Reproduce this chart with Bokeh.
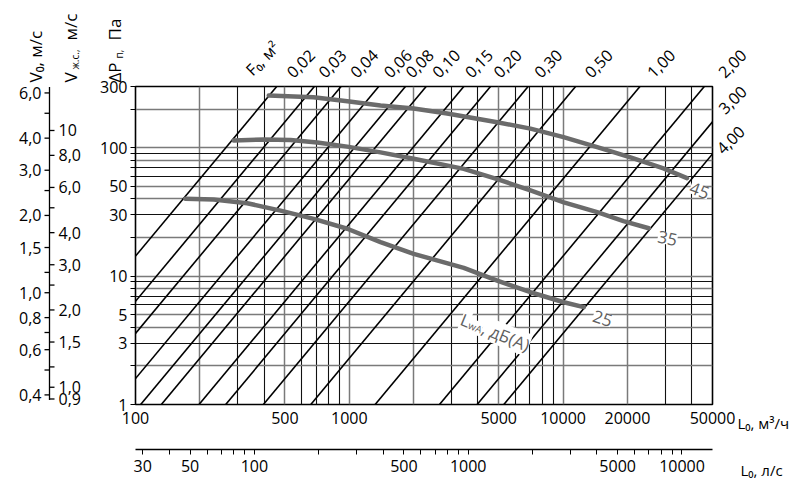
import math
from bokeh.plotting import figure
from bokeh.models import Range1d, LogAxis, LogScale, FixedTicker, Label, Grid
from bokeh.core.properties import value
from bokeh.embed import file_html
from bokeh.resources import INLINE

# ---------------- data ----------------
flow_labels_m3h = [100, 500, 1000, 5000, 10000, 20000, 50000]
flow_grid_m3h = [200, 300, 400, 500, 600, 700, 800, 900, 1000, 2000, 3000, 4000,
                 5000, 6000, 7000, 8000, 9000, 10000, 20000, 30000, 40000]
flow_labels_ls = [30, 50, 100, 500, 1000, 5000, 10000]
flow_ticks_ls = [30, 40, 50, 60, 70, 80, 90, 100, 200, 300, 400, 500, 600, 700, 800, 900,
                 1000, 2000, 3000, 4000, 5000, 6000, 7000, 8000, 9000, 10000]
dp_labels = [1, 3, 5, 10, 30, 50, 100, 300]
dp_grid = [2, 3, 4, 5, 6, 7, 8, 9, 10, 20, 30, 40, 50, 60, 70, 80, 90, 100, 200]
v0_labels = [0.4, 0.6, 0.8, 1.0, 1.5, 2.0, 3.0, 4.0, 6.0]
v0_minor = [0.5, 0.7, 1.2, 2.5, 5.0]
vj_labels = [0.9, 1.0, 1.5, 2.0, 3.0, 4.0, 6.0, 8.0, 10.0]
vj_minor = [1.2, 2.5, 5.0]
f0_values = [0.02, 0.03, 0.04, 0.06, 0.08, 0.10, 0.15, 0.20, 0.30, 0.50, 1.00, 2.00, 3.00, 4.00]

curve45_flow = [420, 680, 980, 1400, 2000, 2870, 4920, 7040, 10050, 14440, 20670, 29480, 38000]
curve45_dp = [255, 247, 230, 213, 202, 185, 158, 141, 121, 101, 84, 69, 58]
curve35_flow = [288, 398, 531, 708, 978, 1400, 2000, 3432, 4920, 7040, 10080, 14440, 19170, 25180]
curve35_dp = [114, 116, 115, 110, 102, 92, 82, 68.5, 57, 46.5, 37.6, 31.5, 26.8, 23.6]
curve25_flow = [171, 232, 333, 477, 682, 978, 1400, 2000, 3432, 4920, 7040, 10080, 12500]
curve25_dp = [40, 39.5, 37, 32.4, 27.9, 23.4, 18.4, 14.9, 11.6, 9.24, 7.49, 6.26, 5.73]

# scale coefficients: V = K*sqrt(dP)
K0 = 0.367    # V0, m/s
KJ = 0.8566   # V ж.с., m/s

# ---------------- styling / geometry ----------------
FONT = "Open Sans"
W, H = 797, 479
FL, FR, FT, FB = 135, 712, 86, 404          # frame in picture pixels
DX = (FR - FL) / math.log10(500)
DY = (FB - FT) / math.log10(300)


def xd(px):
    return 100 * 10 ** ((px - FL) / DX)


def yd(py):
    return 10 ** ((FB - py) / DY)


def fmt(v, nd=1):
    return f"{v:.{nd}f}".replace(".", ",")


p = figure(width=W, height=H, x_axis_type="log", y_axis_type="log",
           x_range=Range1d(100, 50000), y_range=Range1d(1, 300),
           output_backend="svg", toolbar_location=None,
           min_border_left=FL, min_border_right=W - FR,
           min_border_top=FT, min_border_bottom=H - FB)
p.outline_line_color = "black"
p.outline_line_width = 1.6
p.background_fill_color = "white"
p.border_fill_color = "white"
p.xgrid.visible = False
p.ygrid.visible = False

p.extra_x_ranges = {"ls": Range1d(100 / 3.6, 50000 / 3.6)}
p.extra_x_scales = {"ls": LogScale()}
p.extra_y_ranges = {"v0": Range1d(K0, K0 * math.sqrt(300)),
                    "vj": Range1d(KJ, KJ * math.sqrt(300))}
p.extra_y_scales = {"v0": LogScale(), "vj": LogScale()}


def mant(v):
    return round(v / 10 ** math.floor(math.log10(v)))


gx_gray = [v for v in flow_grid_m3h if mant(v) in (1, 2, 5)]
gx_black = [v for v in flow_grid_m3h if mant(v) not in (1, 2, 5)]
gy_gray = [v for v in dp_grid if mant(v) in (1, 2, 4, 5, 8)]
gy_black = [v for v in dp_grid if mant(v) not in (1, 2, 4, 5, 8)]
for dim, vals, col, lw in [(0, gx_gray, "#7a7a7a", 1.5), (0, gx_black, "#111111", 1.1),
                           (1, gy_gray, "#7a7a7a", 1.5), (1, gy_black, "#111111", 1.1)]:
    p.add_layout(Grid(dimension=dim, ticker=FixedTicker(ticks=vals),
                      grid_line_color=col, grid_line_width=lw))

# axes: dP (left)
yax = p.yaxis[0]
dp_ticks = [1] + dp_grid + [300]
yax.ticker = FixedTicker(ticks=dp_ticks)
yax.major_label_overrides = {t: (str(t) if t in dp_labels else "") for t in dp_ticks}
yax.major_tick_out = 5
yax.major_tick_in = 0
yax.minor_tick_out = 0
yax.minor_tick_in = 0
yax.major_label_standoff = 3
yax.major_label_text_font = FONT
yax.major_label_text_font_size = "16px"
yax.major_label_text_color = "black"
yax.axis_line_color = "black"

# axes: L m3/h (below)
xax = p.xaxis[0]
xax.ticker = FixedTicker(ticks=flow_labels_m3h)
xax.major_label_overrides = {t: str(t) for t in flow_labels_m3h}
xax.major_tick_out = 0
xax.major_tick_in = 0
xax.minor_tick_out = 0
xax.minor_tick_in = 0
xax.axis_line_color = None
xax.major_label_standoff = 7
xax.major_label_text_font = FONT
xax.major_label_text_font_size = "16px"
xax.major_label_text_color = "black"
xax.axis_label = "\u00a0"
xax.axis_label_standoff = 6
xax.axis_label_text_font_size = "12px"

# axes: L l/s (below, second)
lax = LogAxis(x_range_name="ls", ticker=FixedTicker(ticks=flow_ticks_ls))
lax.major_label_overrides = {t: (str(t) if t in flow_labels_ls else "") for t in flow_ticks_ls}
lax.major_tick_out = 5
lax.major_tick_in = 0
lax.minor_tick_out = 0
lax.minor_tick_in = 0
lax.major_label_standoff = 5
lax.major_label_text_font = FONT
lax.major_label_text_font_size = "16px"
lax.major_label_text_color = "black"
lax.axis_line_color = "black"
lax.axis_line_width = 1.3
p.add_layout(lax, "below")

# F0 lines
L_end = [100, 50000]
for f0 in f0_values:
    dp = [((L / (3600 * f0)) / K0) ** 2 for L in L_end]
    p.line(L_end, dp, line_color="black", line_width=1.6)

# noise curves
for fl, dp in [(curve45_flow, curve45_dp), (curve35_flow, curve35_dp), (curve25_flow, curve25_dp)]:
    p.line(fl, dp, line_color="#6b6b6b", line_width=4.5, line_cap="round", line_join="round")

# F0 labels on top / right
top_f0 = [f for f in f0_values if f <= 2.0]
top_dx = [24, 18, 23, 19, 14, 20, 15, 17, 20, 23, 21, 28]
tx, ty, tt = [], [], []
for f0, dx in zip(top_f0, top_dx):
    L_top = 3600 * f0 * K0 * math.sqrt(300)
    tx.append(L_top * 10 ** (dx / DX))
    ty.append(yd(63))
    tt.append(fmt(f0, 2))
right_f0 = [f for f in f0_values if f > 2.0]
right_off = [(20, 22), (18, 14)]
for f0, (dx, dy) in zip(right_f0, right_off):
    dp_r = ((50000 / (3600 * f0)) / K0) ** 2
    tx.append(50000 * 10 ** (dx / DX))
    ty.append(dp_r * 10 ** (dy / DY))
    tt.append(fmt(f0, 2))
tx.append(xd(262))
ty.append(yd(58))
tt.append("F₀, м²")
p.text(x=tx, y=ty, text=tt, angle=math.pi / 4, text_align="center", text_baseline="middle",
       text_font=value(FONT), text_font_size="16px", text_color="black", level="overlay")

# left velocity scales
xa = xd(49)
v0_all = sorted(v0_labels + v0_minor)
p.segment(x0=[xd(44)] * len(v0_all), y0=v0_all, x1=[xa] * len(v0_all), y1=v0_all,
          y_range_name="v0", line_color="black", line_width=1.3, level="overlay")
p.segment(x0=[xa], y0=[0.382], x1=[xa], y1=[6.33], y_range_name="v0",
          line_color="black", line_width=1.3, level="overlay")
p.text(x=[xd(41)] * len(v0_labels), y=v0_labels, text=[fmt(v) for v in v0_labels],
       y_range_name="v0", text_align="right", text_baseline="middle",
       text_font=value(FONT), text_font_size="16px", text_color="black", level="overlay")
vj_all = sorted(vj_labels + vj_minor)
p.segment(x0=[xa] * len(vj_all), y0=vj_all, x1=[xd(54)] * len(vj_all), y1=vj_all,
          y_range_name="vj", line_color="black", line_width=1.3, level="overlay")
p.text(x=[xd(58)] * len(vj_labels), y=vj_labels,
       text=[("10" if v >= 10 else fmt(v)) for v in vj_labels],
       y_range_name="vj", text_align="left", text_baseline="middle",
       text_font=value(FONT), text_font_size="16px", text_color="black", level="overlay")

# axis titles (rotated)
titles = [("V₀, м/с", 35, 82, "17px"),
          ("V", 70, 82, "17px"), ("ж.с.,", 74, 69, "10px"), ("м/с", 70, 40, "17px"),
          ("ΔP", 114, 82, "17px"), ("п,", 118, 58, "10px"), ("Па", 114, 40, "17px")]
for txt, px, py, fs in titles:
    p.text(x=[xd(px)], y=[yd(py)], text=[txt], angle=math.pi / 2, text_align="left",
           text_baseline="middle", text_font=value(FONT), text_font_size=fs,
           text_color="black", level="overlay")

p.text(x=[xd(737), xd(740)], y=[yd(422), yd(469)], text=["L₀, м³/ч", "L₀, л/с"],
       text_align="left", text_baseline="middle", text_font=value(FONT),
       text_font_size="15px", text_color="black", level="overlay")

# curve labels
for txt, px, py, ang in [("45", 699, 190, -20), ("35", 667, 238, -12), ("25", 602, 318, -18)]:
    p.add_layout(Label(x=xd(px), y=yd(py), text=txt, angle=math.radians(ang),
                       text_align="center", text_baseline="middle", text_font=FONT,
                       text_font_size="17px", text_color="#5f5f5f",
                       background_fill_color="white"))

theta = math.radians(22)
sx0, sy0 = 461, 318
for txt, a, d, fs in [("L", 0, 0, "17px"), ("wA", 9, 3, "10px"), (", дБ(А)", 23, 0, "17px")]:
    sx = sx0 + math.cos(theta) * a - math.sin(theta) * d
    sy = sy0 + math.sin(theta) * a + math.cos(theta) * d
    p.add_layout(Label(x=xd(sx), y=yd(sy), text=txt, angle=-theta,
                       text_align="left", text_baseline="alphabetic", text_font=FONT,
                       text_font_size=fs, text_color="#5f5f5f",
                       background_fill_color="white"))

open("out.html", "w").write(file_html(p, INLINE))
